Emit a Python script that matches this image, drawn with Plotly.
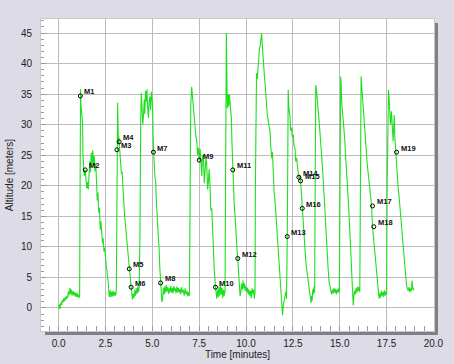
import plotly.graph_objects as go

# ---- data ----
time_min = [
    0.00, 0.04, 0.08, 0.12, 0.16, 0.20, 0.24, 0.28, 0.32, 0.36, 0.40, 0.44, 0.48, 0.52, 0.56, 0.60,
    0.64, 0.68, 0.72, 0.76, 0.80, 0.84, 0.88, 0.92, 0.96, 1.00, 1.04, 1.08, 1.12, 1.14, 1.15, 1.16,
    1.17, 1.19, 1.22, 1.25, 1.28, 1.30, 1.33, 1.37, 1.42, 1.46, 1.50, 1.54, 1.58, 1.62, 1.66, 1.70,
    1.74, 1.78, 1.82, 1.86, 1.90, 1.94, 1.98, 2.02, 2.06, 2.10, 2.14, 2.18, 2.22, 2.26, 2.30, 2.34,
    2.38, 2.42, 2.46, 2.50, 2.54, 2.58, 2.62, 2.66, 2.69, 2.72, 2.76, 2.80, 2.84, 2.88, 2.92, 2.96,
    3.00, 3.04, 3.08, 3.10, 3.11, 3.13, 3.15, 3.17, 3.19, 3.21, 3.23, 3.27, 3.31, 3.35, 3.39, 3.43,
    3.47, 3.51, 3.55, 3.59, 3.63, 3.67, 3.71, 3.74, 3.77, 3.80, 3.84, 3.87, 3.90, 3.94, 3.98, 4.02,
    4.06, 4.10, 4.14, 4.18, 4.22, 4.26, 4.30, 4.34, 4.38, 4.41, 4.45, 4.49, 4.53, 4.57, 4.60, 4.64,
    4.68, 4.71, 4.75, 4.79, 4.83, 4.87, 4.91, 4.95, 4.99, 5.02, 5.04, 5.06, 5.10, 5.14, 5.18, 5.22,
    5.26, 5.29, 5.32, 5.36, 5.40, 5.44, 5.48, 5.51, 5.55, 5.59, 5.63, 5.67, 5.71, 5.75, 5.79, 5.83,
    5.87, 5.91, 5.95, 5.99, 6.03, 6.07, 6.11, 6.15, 6.19, 6.23, 6.27, 6.31, 6.35, 6.39, 6.43, 6.47,
    6.51, 6.55, 6.60, 6.65, 6.70, 6.75, 6.80, 6.85, 6.90, 6.95, 6.98, 7.01, 7.05, 7.10, 7.14, 7.19,
    7.23, 7.28, 7.32, 7.37, 7.42, 7.46, 7.50, 7.55, 7.60, 7.64, 7.68, 7.73, 7.77, 7.81, 7.86, 7.90,
    7.95, 7.99, 8.03, 8.08, 8.12, 8.17, 8.21, 8.26, 8.31, 8.37, 8.41, 8.44, 8.48, 8.52, 8.56, 8.60,
    8.64, 8.68, 8.72, 8.76, 8.80, 8.84, 8.88, 8.92, 8.95, 8.98, 9.00, 9.03, 9.05, 9.08, 9.11, 9.15,
    9.19, 9.22, 9.25, 9.29, 9.33, 9.37, 9.41, 9.45, 9.50, 9.53, 9.56, 9.60, 9.64, 9.68, 9.72, 9.76,
    9.80, 9.84, 9.88, 9.92, 9.96, 10.00, 10.04, 10.08, 10.12, 10.16, 10.20, 10.24, 10.28, 10.32, 10.36, 10.40,
    10.44, 10.48, 10.50, 10.52, 10.56, 10.60, 10.64, 10.68, 10.72, 10.76, 10.80, 10.83, 10.87, 10.90, 10.94, 10.98,
    11.01, 11.05, 11.10, 11.14, 11.19, 11.23, 11.28, 11.32, 11.37, 11.41, 11.46, 11.50, 11.55, 11.59, 11.63, 11.68,
    11.72, 11.76, 11.81, 11.85, 11.90, 11.93, 11.95, 11.99, 12.04, 12.08, 12.13, 12.16, 12.18, 12.20, 12.23, 12.25,
    12.28, 12.31, 12.34, 12.38, 12.43, 12.47, 12.52, 12.56, 12.61, 12.65, 12.70, 12.75, 12.79, 12.82, 12.87, 12.91,
    12.95, 13.00, 13.05, 13.10, 13.14, 13.18, 13.23, 13.27, 13.32, 13.36, 13.41, 13.44, 13.47, 13.50, 13.53, 13.56,
    13.60, 13.63, 13.66, 13.69, 13.72, 13.77, 13.81, 13.85, 13.90, 13.94, 13.98, 14.03, 14.07, 14.12, 14.16, 14.21,
    14.25, 14.30, 14.34, 14.38, 14.43, 14.47, 14.52, 14.57, 14.61, 14.65, 14.70, 14.74, 14.78, 14.82, 14.86, 14.90,
    14.94, 14.98, 15.02, 15.05, 15.08, 15.10, 15.14, 15.18, 15.22, 15.27, 15.31, 15.36, 15.40, 15.45, 15.50, 15.54,
    15.58, 15.63, 15.67, 15.72, 15.75, 15.79, 15.83, 15.87, 15.91, 15.95, 15.99, 16.03, 16.07, 16.10, 16.14, 16.18,
    16.21, 16.25, 16.30, 16.34, 16.38, 16.43, 16.47, 16.52, 16.56, 16.60, 16.65, 16.70, 16.75, 16.82, 16.88, 16.93,
    16.98, 17.05, 17.10, 17.14, 17.18, 17.22, 17.26, 17.30, 17.34, 17.38, 17.42, 17.46, 17.50, 17.53, 17.60, 17.64,
    17.67, 17.71, 17.76, 17.81, 17.85, 17.88, 17.91, 17.94, 17.97, 17.99, 18.03, 18.07, 18.11, 18.16, 18.20, 18.25,
    18.29, 18.33, 18.38, 18.42, 18.47, 18.51, 18.56, 18.60, 18.65, 18.70, 18.74, 18.78, 18.82, 18.86, 18.90, 18.92,
    18.96, 19.00,
]

altitude_m = [
    -0.2, 0.6, -0.1, 0.9, 0.5, 1.3, 0.9, 1.6, 1.1, 1.8, 1.4, 2.0, 1.6, 2.7, 2.1, 3.3,
    2.3, 3.0, 2.0, 2.8, 2.1, 2.6, 1.9, 2.5, 1.8, 2.4, 1.7, 2.2, 1.7, 18.0, 30.0, 34.7,
    35.8, 33.4, 32.2, 31.6, 30.2, 25.0, 22.8, 21.6, 22.6, 20.8, 19.6, 20.6, 19.4, 21.5, 24.0, 22.2,
    25.4, 23.4, 25.8, 23.2, 24.9, 22.4, 23.6, 21.0, 17.6, 18.9, 15.6, 16.4, 12.8, 14.2, 12.6, 10.6,
    11.4, 9.2, 9.9, 7.8, 7.0, 6.0, 5.2, 3.8, 2.1, 1.8, 2.9, 1.8, 2.7, 1.9, 2.8, 2.0,
    2.6, 2.0, 3.0, 14.0, 25.9, 29.5, 33.6, 30.2, 26.8, 28.1, 27.2, 25.8, 24.2, 22.0, 22.3, 19.0,
    17.4, 15.6, 14.1, 12.6, 11.2, 9.4, 8.6, 7.3, 6.4, 5.0, 4.2, 3.4, 2.6, 1.4, 2.3, 1.6,
    2.9, 2.0, 3.2, 2.3, 3.5, 2.6, 3.4, 12.0, 30.5, 35.2, 32.8, 30.0, 31.6, 34.1, 31.8, 35.5,
    33.8, 35.8, 32.9, 31.1, 33.9, 34.6, 32.4, 35.4, 34.1, 32.6, 28.2, 25.5, 23.6, 21.4, 20.6, 17.2,
    15.4, 14.0, 11.6, 9.7, 6.6, 4.1, 2.1, 1.0, 1.4, 3.3, 2.2, 3.5, 2.5, 3.8, 2.7, 3.4,
    2.3, 3.2, 2.6, 3.6, 2.5, 3.3, 2.4, 3.6, 2.8, 3.2, 2.4, 3.5, 2.6, 3.3, 2.5, 3.1,
    2.2, 3.4, 2.5, 3.0, 2.0, 3.2, 2.2, 2.8, 1.9, 2.6, 2.0, 15.0, 33.0, 36.2, 34.6, 34.2,
    31.4, 30.0, 28.2, 27.3, 25.1, 26.2, 24.2, 26.0, 22.8, 21.6, 24.9, 25.0, 20.4, 22.4, 24.4, 23.8,
    19.4, 20.6, 22.7, 19.8, 16.0, 16.3, 13.0, 9.6, 6.1, 3.4, 2.0, 1.5, 3.0, 1.8, 3.5, 2.0,
    3.8, 2.2, 3.3, 1.6, 3.0, 2.0, 2.8, 20.0, 45.0, 37.5, 32.7, 34.0, 34.9, 33.0, 35.0, 33.2,
    32.0, 31.0, 27.0, 22.6, 19.5, 17.0, 15.2, 12.5, 9.8, 9.0, 8.1, 5.5, 3.2, 2.0, 2.5, 4.0,
    3.0, 4.5, 3.2, 4.0, 2.8, 3.6, 2.6, 3.3, 2.2, 3.0, 2.0, 2.8, 1.6, 3.2, 2.4, 3.0,
    1.5, 2.5, 20.0, 36.5, 38.4, 37.5, 40.0, 41.5, 42.5, 43.0, 44.2, 45.0, 43.0, 41.0, 39.7, 38.0,
    37.0, 35.0, 32.7, 31.5, 30.5, 30.0, 28.9, 26.5, 24.5, 25.5, 20.7, 19.0, 17.4, 15.5, 14.1, 12.0,
    9.8, 7.5, 5.4, 3.0, 1.0, 0.5, -1.2, 0.5, 1.6, 2.0, 2.7, 1.5, 5.0, 11.7, 25.0, 35.7,
    33.0, 32.0, 31.6, 29.0, 29.5, 28.0, 28.4, 26.5, 26.2, 24.0, 24.6, 23.0, 22.0, 21.4, 21.5, 20.8,
    19.0, 16.3, 14.5, 11.5, 9.2, 8.0, 6.5, 5.5, 4.8, 3.5, 2.6, 1.5, 0.8, 2.0, 1.2, 3.0,
    2.2, 3.5, 2.5, 20.0, 36.5, 35.4, 34.0, 32.0, 31.6, 29.0, 27.2, 25.5, 23.4, 21.0, 18.5, 16.0,
    13.0, 11.0, 8.6, 6.5, 4.3, 3.2, 2.9, 2.2, 3.0, 2.4, 3.3, 2.5, 3.1, 2.2, 3.0, 2.5,
    3.2, 2.6, 20.0, 37.9, 36.5, 34.0, 32.7, 31.0, 30.0, 27.5, 25.0, 23.0, 20.7, 18.0, 15.2, 12.5,
    9.8, 7.0, 3.2, 0.4, 2.0, 2.8, 2.2, 3.2, 2.5, 3.5, 2.8, 3.4, 2.6, 20.0, 37.9, 36.0,
    34.5, 33.0, 31.6, 28.0, 26.2, 24.5, 23.4, 22.0, 20.7, 19.5, 18.0, 16.7, 13.3, 11.0, 8.6, 6.5,
    4.8, 2.8, 1.5, 2.4, 1.7, 2.8, 2.0, 2.6, 1.8, 2.9, 2.0, 2.7, 2.2, 20.0, 35.7, 34.0,
    31.0, 30.0, 32.2, 29.0, 27.3, 29.5, 31.6, 28.0, 26.2, 25.5, 24.0, 22.3, 20.0, 18.5, 17.0, 15.2,
    13.0, 11.4, 9.5, 8.1, 6.5, 4.8, 3.8, 3.2, 2.8, 3.4, 2.6, 3.2, 2.8, 4.5, 3.0, 3.3,
    2.9,
]

marker_names = ["M1", "M2", "M3", "M4", "M5", "M6", "M7", "M8", "M9", "M10",
                "M11", "M12", "M13", "M14", "M15", "M16", "M17", "M18", "M19"]
marker_time = [1.16, 1.42, 3.11, 3.23, 3.77, 3.87, 5.06, 5.44, 7.50, 8.37,
               9.29, 9.56, 12.20, 12.82, 12.91, 13.00, 16.75, 16.82, 18.03]
marker_alt = [34.7, 22.6, 25.9, 27.2, 6.4, 3.4, 25.5, 4.1, 24.2, 3.4,
              22.6, 8.1, 11.7, 21.4, 20.8, 16.3, 16.7, 13.3, 25.5]

x_tickvals = [0.0, 2.5, 5.0, 7.5, 10.0, 12.5, 15.0, 17.5, 20.0]
y_tickvals = [0, 5, 10, 15, 20, 25, 30, 35, 40, 45]

# ---- figure ----
W, H = 454, 364
ML, MR, MT, MB = 41, 20, 19, 33
pw, ph = W - ML - MR, H - MT - MB

fig = go.Figure()
fig.add_trace(go.Scatter(x=time_min, y=altitude_m, mode="lines",
                         line=dict(color="#1ee01e", width=1.1), hoverinfo="skip"))
fig.add_trace(go.Scatter(x=marker_time, y=marker_alt, mode="markers",
                         marker=dict(symbol="circle-open", size=4, color="#000000",
                                     line=dict(width=1)),
                         hoverinfo="skip"))

for name, t, a in zip(marker_names, marker_time, marker_alt):
    fig.add_annotation(x=t, y=a, text=name, showarrow=False, xanchor="left",
                       yanchor="middle", xshift=2, yshift=4,
                       font=dict(family="Liberation Sans, Arial", size=7.5,
                                 color="#111111", weight="bold"))

# drop shadow of the plot frame (right + bottom)
sx, sy = 4 / pw, 4 / ph
fig.add_shape(type="rect", xref="paper", yref="paper", x0=1.0, x1=1.0 + sx,
              y0=-sy, y1=1.0 - sy, fillcolor="#7f7f88", line=dict(width=0), layer="below")
fig.add_shape(type="rect", xref="paper", yref="paper", x0=sx, x1=1.0 + sx,
              y0=-sy, y1=0.0, fillcolor="#7f7f88", line=dict(width=0), layer="below")

axfont = dict(family="Liberation Sans, Arial", size=10, color="#222222")
fig.update_layout(
    width=W, height=H,
    margin=dict(l=ML, r=MR, t=MT, b=MB, pad=0),
    paper_bgcolor="#dddbe6", plot_bgcolor="#ffffff",
    showlegend=False,
    font=axfont,
    xaxis=dict(range=[-0.94, 20.03], tickvals=x_tickvals,
               ticktext=[f"{v:.1f}" for v in x_tickvals],
               showgrid=True, gridcolor="#bcbcbc", gridwidth=1,
               ticks="inside", ticklen=5, tickcolor="#9a9a9a",
               minor=dict(dtick=0.5, tick0=0, ticks="inside", ticklen=5,
                          tickcolor="#9a9a9a", showgrid=False),
               showline=True, mirror=True, linecolor="#c8c8c8", linewidth=1,
               zeroline=False, ticklabelstandoff=3, ticklabeloverflow="allow",
               title=dict(text="Time [minutes]", standoff=0, font=axfont),
               automargin=False),
    yaxis=dict(range=[-3.77, 47.3], tickvals=y_tickvals,
               showgrid=True, gridcolor="#bcbcbc", gridwidth=1,
               ticks="inside", ticklen=5, tickcolor="#9a9a9a",
               minor=dict(dtick=1, tick0=0, ticks="inside", ticklen=3,
                          tickcolor="#9a9a9a", showgrid=False),
               showline=True, mirror=True, linecolor="#c8c8c8", linewidth=1,
               zeroline=False, ticklabelstandoff=6,
               title=dict(text="Altitude [meters]", standoff=5, font=axfont),
               automargin=False),
)

fig.write_html("out.html", config={"displayModeBar": False},
               post_script="document.body.style.margin='0px';document.body.style.overflow='hidden';")
